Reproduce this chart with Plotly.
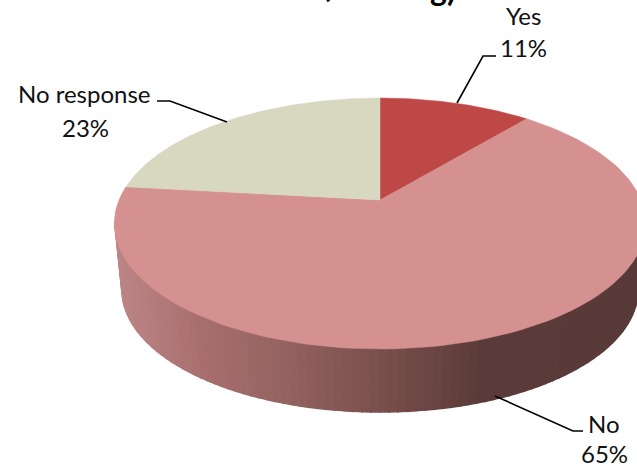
import numpy as np
import plotly.graph_objects as go

categories = ["Yes", "No", "No response"]
values = [11, 65, 23]
percent_labels = ["11%", "65%", "23%"]
top_colors = ["#bd4846", "#d59090", "#d8d7c0"]
title_fragments = ["(", "g)"]

W, H = 637, 469
CX, CY, BX, BY, PERSP = 380.0, 200.0, 261.0, 121.1, 0.1873


def project(theta):
    """Tilted-disc projection of a pie angle measured clockwise from the top."""
    u, v = np.sin(theta), np.cos(theta)
    d = 1 + PERSP * v
    return CX + BX * u / d, CY - BY * v / d


fig = go.Figure()

# side wall, shaded from left to right
shade_x = [114, 200, 280, 380, 480, 640]
shade_r = [190, 170, 150, 122, 92, 88]
shade_g = [136, 112, 100, 80, 60, 58]
shade_b = [136, 112, 98, 78, 58, 56]
alphas = np.radians(np.linspace(180, 360, 91))
for a0, a1 in zip(alphas[:-1], alphas[1:]):
    xs = [380 + 265 * np.cos(a0), 380 + 265 * np.cos(a1), 380 + 258 * np.cos(a1), 380 + 258 * np.cos(a0)]
    ys = [222 - 125 * np.sin(a0), 222 - 125 * np.sin(a1), 290 - 122 * np.sin(a1), 290 - 122 * np.sin(a0)]
    mx = float(np.mean(xs))
    c = "rgb(%d,%d,%d)" % (np.interp(mx, shade_x, shade_r), np.interp(mx, shade_x, shade_g), np.interp(mx, shade_x, shade_b))
    fig.add_trace(go.Scatter(x=xs + xs[:1], y=ys + ys[:1], mode="lines", fill="toself", fillcolor=c,
                             line=dict(color=c, width=1.5), hoverinfo="skip", showlegend=False))

# top face of the pie, built from the values
total = sum(values)
start = 0.0
for name, val, col in zip(categories, values, top_colors):
    end = start + 2 * np.pi * val / total
    t = np.linspace(start, end, 120)
    px, py = project(t)
    fig.add_trace(go.Scatter(x=[CX] + list(px) + [CX], y=[CY] + list(py) + [CY], mode="lines", fill="toself",
                             fillcolor=col, line=dict(color=col, width=0.5), name=name, showlegend=False))
    start = end

# leader lines
leaders = [
    ([457, 483, 496], [103, 56, 56]),
    ([227, 170, 157], [122, 101, 101]),
    ([495, 573, 583], [396, 431, 431]),
]
for lx, ly in leaders:
    fig.add_trace(go.Scatter(x=lx, y=ly, mode="lines", line=dict(color="#000000", width=1.6),
                             hoverinfo="skip", showlegend=False))

FONT = dict(family="Lato, Open Sans, sans-serif", size=24, color="#111111")
labels = [
    (categories[0], 523, 15), (percent_labels[0], 523, 47),
    (categories[2], 84, 93), (percent_labels[2], 85, 127),
    (categories[1], 604, 423), (percent_labels[1], 604, 453),
]
for txt, x, y in labels:
    fig.add_annotation(x=x, y=y, text=txt, showarrow=False, font=FONT, xanchor="center", yanchor="middle")

# the chart title runs off the top of the picture: only its lowest strokes show
TITLE_FONT = dict(family="Lato, Open Sans, sans-serif", size=32, color="#000000")
for txt, x, y in zip(title_fragments, [326, 428], [6, 10]):
    fig.add_annotation(x=x, y=y, text="<b>%s</b>" % txt, showarrow=False, font=TITLE_FONT,
                       xanchor="left" if txt != "(" else "center", yanchor="bottom")

fig.update_layout(
    width=W, height=H, margin=dict(l=0, r=0, t=0, b=0),
    paper_bgcolor="white", plot_bgcolor="white", showlegend=False,
    xaxis=dict(range=[0, W], visible=False, fixedrange=True),
    yaxis=dict(range=[H, 0], visible=False, fixedrange=True),
)
fig.write_html("out.html", config={"displayModeBar": False},
               post_script="document.body.style.margin='0';")
